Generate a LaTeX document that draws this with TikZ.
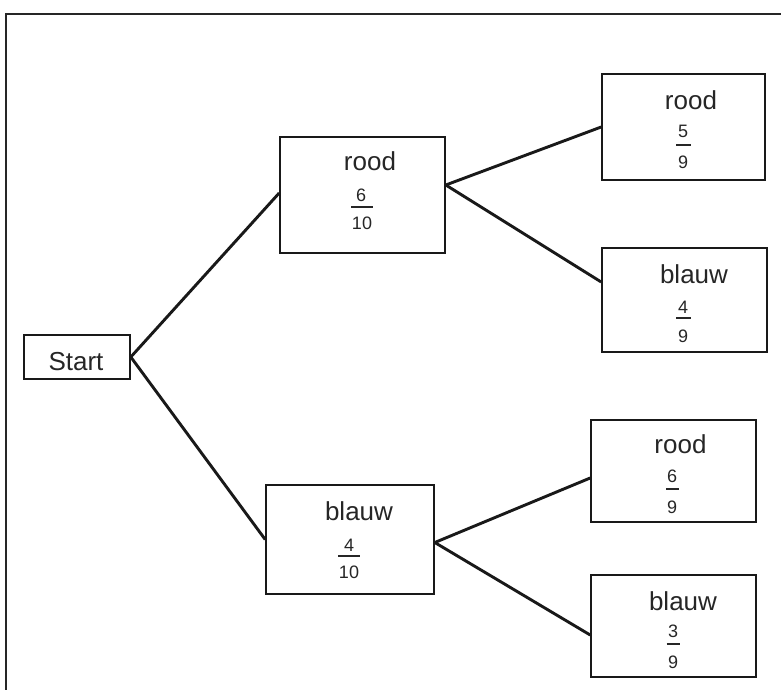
\documentclass[tikz,border=0pt]{standalone}
\usepackage{fontspec}
\setmainfont{Liberation Sans}
\begin{document}
\begin{tikzpicture}[x=1pt,y=-1pt,
  box/.style={draw=black!90, line width=1.6pt, inner sep=0pt},
  word/.style={anchor=base, font=\fontsize{26}{26}\selectfont, inner sep=0pt, text=black!85},
  num/.style={anchor=base, font=\fontsize{18}{18}\selectfont, inner sep=0pt, text=black!85},
  fbar/.style={inner sep=0pt, text=black!85},
  conn/.style={line width=2.9pt, draw=black!90}]
\useasboundingbox (0,0) rectangle (781,690);
% frame
\draw[line width=2pt, black!85] (781,14) -- (6,14) -- (6,690);

% boxes
\node[box, minimum width=106pt, minimum height=44pt] (S) at (77,357) {};
\node[box, minimum width=165pt, minimum height=116pt] (A) at (362.5,195) {};
\node[box, minimum width=168pt, minimum height=109pt] (F) at (350,539.5) {};
\node[box, minimum width=163pt, minimum height=106pt] (B) at (683.5,127) {};
\node[box, minimum width=165pt, minimum height=104pt] (C) at (684.5,300) {};
\node[box, minimum width=165pt, minimum height=102pt] (D) at (673.5,471) {};
\node[box, minimum width=165pt, minimum height=102pt] (E) at (673.5,626) {};

% texts
\node[word] (St) at (76,370) {Start};

\node[word] (At) at (370,170) {rood};
\node[num]  (An) at (361,201) {6};
\node[fbar] (Ab) at (362,207) {\rule{22pt}{1.8pt}};
\node[num]  (Ad) at (362,229) {10};

\node[word] (Ft) at (359,520) {blauw};
\node[num]  (Fn) at (349,551) {4};
\node[fbar] (Fb) at (349,556) {\rule{22pt}{1.8pt}};
\node[num]  (Fd) at (349,578) {10};

\node[word] (Bt) at (691,110) {rood};
\node[num]  (Bn) at (683,138) {5};
\node[fbar] (Bb) at (683.5,145) {\rule{15pt}{1.8pt}};
\node[num]  (Bd) at (683,168) {9};

\node[word] (Ct) at (694,283) {blauw};
\node[num]  (Cn) at (683,313) {4};
\node[fbar] (Cb) at (683.5,318) {\rule{15pt}{1.8pt}};
\node[num]  (Cd) at (683,342) {9};

\node[word] (Dt) at (680.5,453) {rood};
\node[num]  (Dn) at (672,482) {6};
\node[fbar] (Db) at (672.5,489) {\rule{13pt}{1.8pt}};
\node[num]  (Dd) at (672,513) {9};

\node[word] (Et) at (683,610) {blauw};
\node[num]  (En) at (673,637) {3};
\node[fbar] (Eb) at (673,644) {\rule{13pt}{1.8pt}};
\node[num]  (Ed) at (673,668) {9};

% connectors
\draw[conn] (S.east) -- ([yshift=2pt]A.west);
\draw[conn] (S.east) -- (F.west);
\draw[conn] ([yshift=10pt]A.east) -- (B.west);
\draw[conn] ([yshift=10pt]A.east) -- ([yshift=18pt]C.west);
\draw[conn] ([yshift=-3pt]F.east) -- ([yshift=-7pt]D.west);
\draw[conn] ([yshift=-3pt]F.east) -- ([yshift=-9pt]E.west);
\end{tikzpicture}
\end{document}
